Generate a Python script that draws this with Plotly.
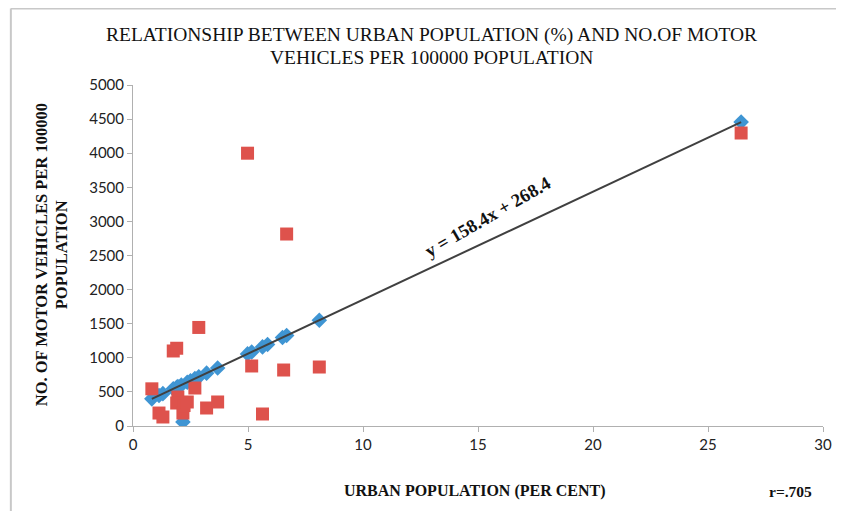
import plotly.graph_objects as go

# Actual values (red squares)
actual_x = [0.82, 1.13, 1.30, 1.75, 1.90, 1.95, 1.90, 2.17, 2.22, 2.36, 2.69, 2.86, 3.20, 3.68,
            4.98, 5.16, 5.63, 6.55, 6.68, 8.10, 26.44]
actual_y = [545, 190, 132, 1100, 1140, 425, 337, 190, 300, 352, 557, 1445, 264, 352,
            4000, 880, 176, 821, 2815, 865, 4296]

# Predicted / fitted values (blue diamonds)
pred_x = [0.82, 1.13, 1.30, 1.75, 1.90, 1.95, 2.10, 2.17, 2.36, 2.50, 2.69, 2.86, 3.20, 3.68,
          4.98, 5.16, 5.63, 5.85, 6.50, 6.68, 8.10, 26.44]
pred_y = [398, 447, 474, 545, 569, 577, 600, 60, 642, 664, 694, 721, 775, 851,
          1057, 1086, 1160, 1195, 1298, 1327, 1551, 4456]

slope = 158.4
intercept = 268.4
x_ticks = [0, 5, 10, 15, 20, 25, 30]
y_ticks = [0, 500, 1000, 1500, 2000, 2500, 3000, 3500, 4000, 4500, 5000]

OFF = 8  # page body margin
W, H = 844 - OFF, 511 - OFF
ML, MR, MT, MB = 133 - OFF, 19, 85 - OFF, 85
pw, ph = W - ML - MR, H - MT - MB

def px(x):  # screen x -> paper
    return (x - OFF - ML) / pw

def py(y):  # screen y -> paper
    return (H - MB - (y - OFF)) / ph

fig = go.Figure()
fig.add_trace(go.Scatter(x=pred_x, y=pred_y, mode="markers",
                         marker=dict(symbol="diamond", size=12, color="#3F95D3",
                                     line=dict(width=0)), showlegend=False))
fig.add_trace(go.Scatter(x=actual_x, y=actual_y, mode="markers",
                         marker=dict(symbol="square", size=13, color="#DE524C",
                                     line=dict(width=0)), showlegend=False))
xmin, xmax = min(actual_x), max(actual_x)
fig.add_trace(go.Scatter(x=[xmin, xmax],
                         y=[slope * xmin + intercept, slope * xmax + intercept],
                         mode="lines", line=dict(color="#404040", width=2), showlegend=False))

serif = "Liberation Serif, Times New Roman, serif"
tickfont = dict(family="Lato, Liberation Sans, sans-serif", size=15, color="#222")

def ann(text, x, y, size, angle=0):
    return dict(text=text, x=px(x), y=py(y), xref="paper", yref="paper", showarrow=False,
                xanchor="center", yanchor="middle", textangle=angle,
                font=dict(family=serif, size=size, color="#111"))

fig.update_layout(
    width=W, height=H,
    margin=dict(l=ML, r=MR, t=MT, b=MB),
    plot_bgcolor="white", paper_bgcolor="white",
    xaxis=dict(range=[0, 30], tickvals=x_ticks, showgrid=False, zeroline=False,
               showline=True, linecolor="#B0B0B0", linewidth=1,
               ticks="outside", ticklen=5, tickcolor="#B0B0B0", tickfont=tickfont),
    yaxis=dict(range=[0, 5000], tickvals=y_ticks, showgrid=False, zeroline=False,
               showline=True, linecolor="#B0B0B0", linewidth=1,
               ticks="outside", ticklen=5, tickcolor="#B0B0B0", tickfont=tickfont),
    annotations=[
        ann("RELATIONSHIP BETWEEN URBAN POPULATION (%) AND NO.OF MOTOR", 432, 35, 19.5),
        ann("VEHICLES PER 100000 POPULATION", 432, 57, 19.5),
        ann("<b>URBAN POPULATION (PER CENT)</b>", 475, 491, 16),
        ann("<b>r=.705</b>", 792, 491, 15.5),
        ann("<b>NO. OF MOTOR VEHICLES PER 100000</b>", 41, 255, 16.5, -90),
        ann("<b>POPULATION</b>", 61, 255, 16.5, -90),
        dict(text="<b>y = 158.4x + 268.4</b>",
             x=15.43, y=3065, xref="x", yref="y", showarrow=False,
             xanchor="center", yanchor="middle",
             textangle=-30, font=dict(family=serif, size=18.5, color="#111")),
    ],
    shapes=[
        dict(type="line", xref="paper", yref="paper",
             x0=px(10.5), y0=py(8.5), x1=px(844), y1=py(8.5),
             line=dict(color="#C8C8C8", width=2)),
        dict(type="line", xref="paper", yref="paper",
             x0=px(10.5), y0=py(8.5), x1=px(10.5), y1=py(511),
             line=dict(color="#C8C8C8", width=2)),
    ],
)

fig.write_html("out.html")
